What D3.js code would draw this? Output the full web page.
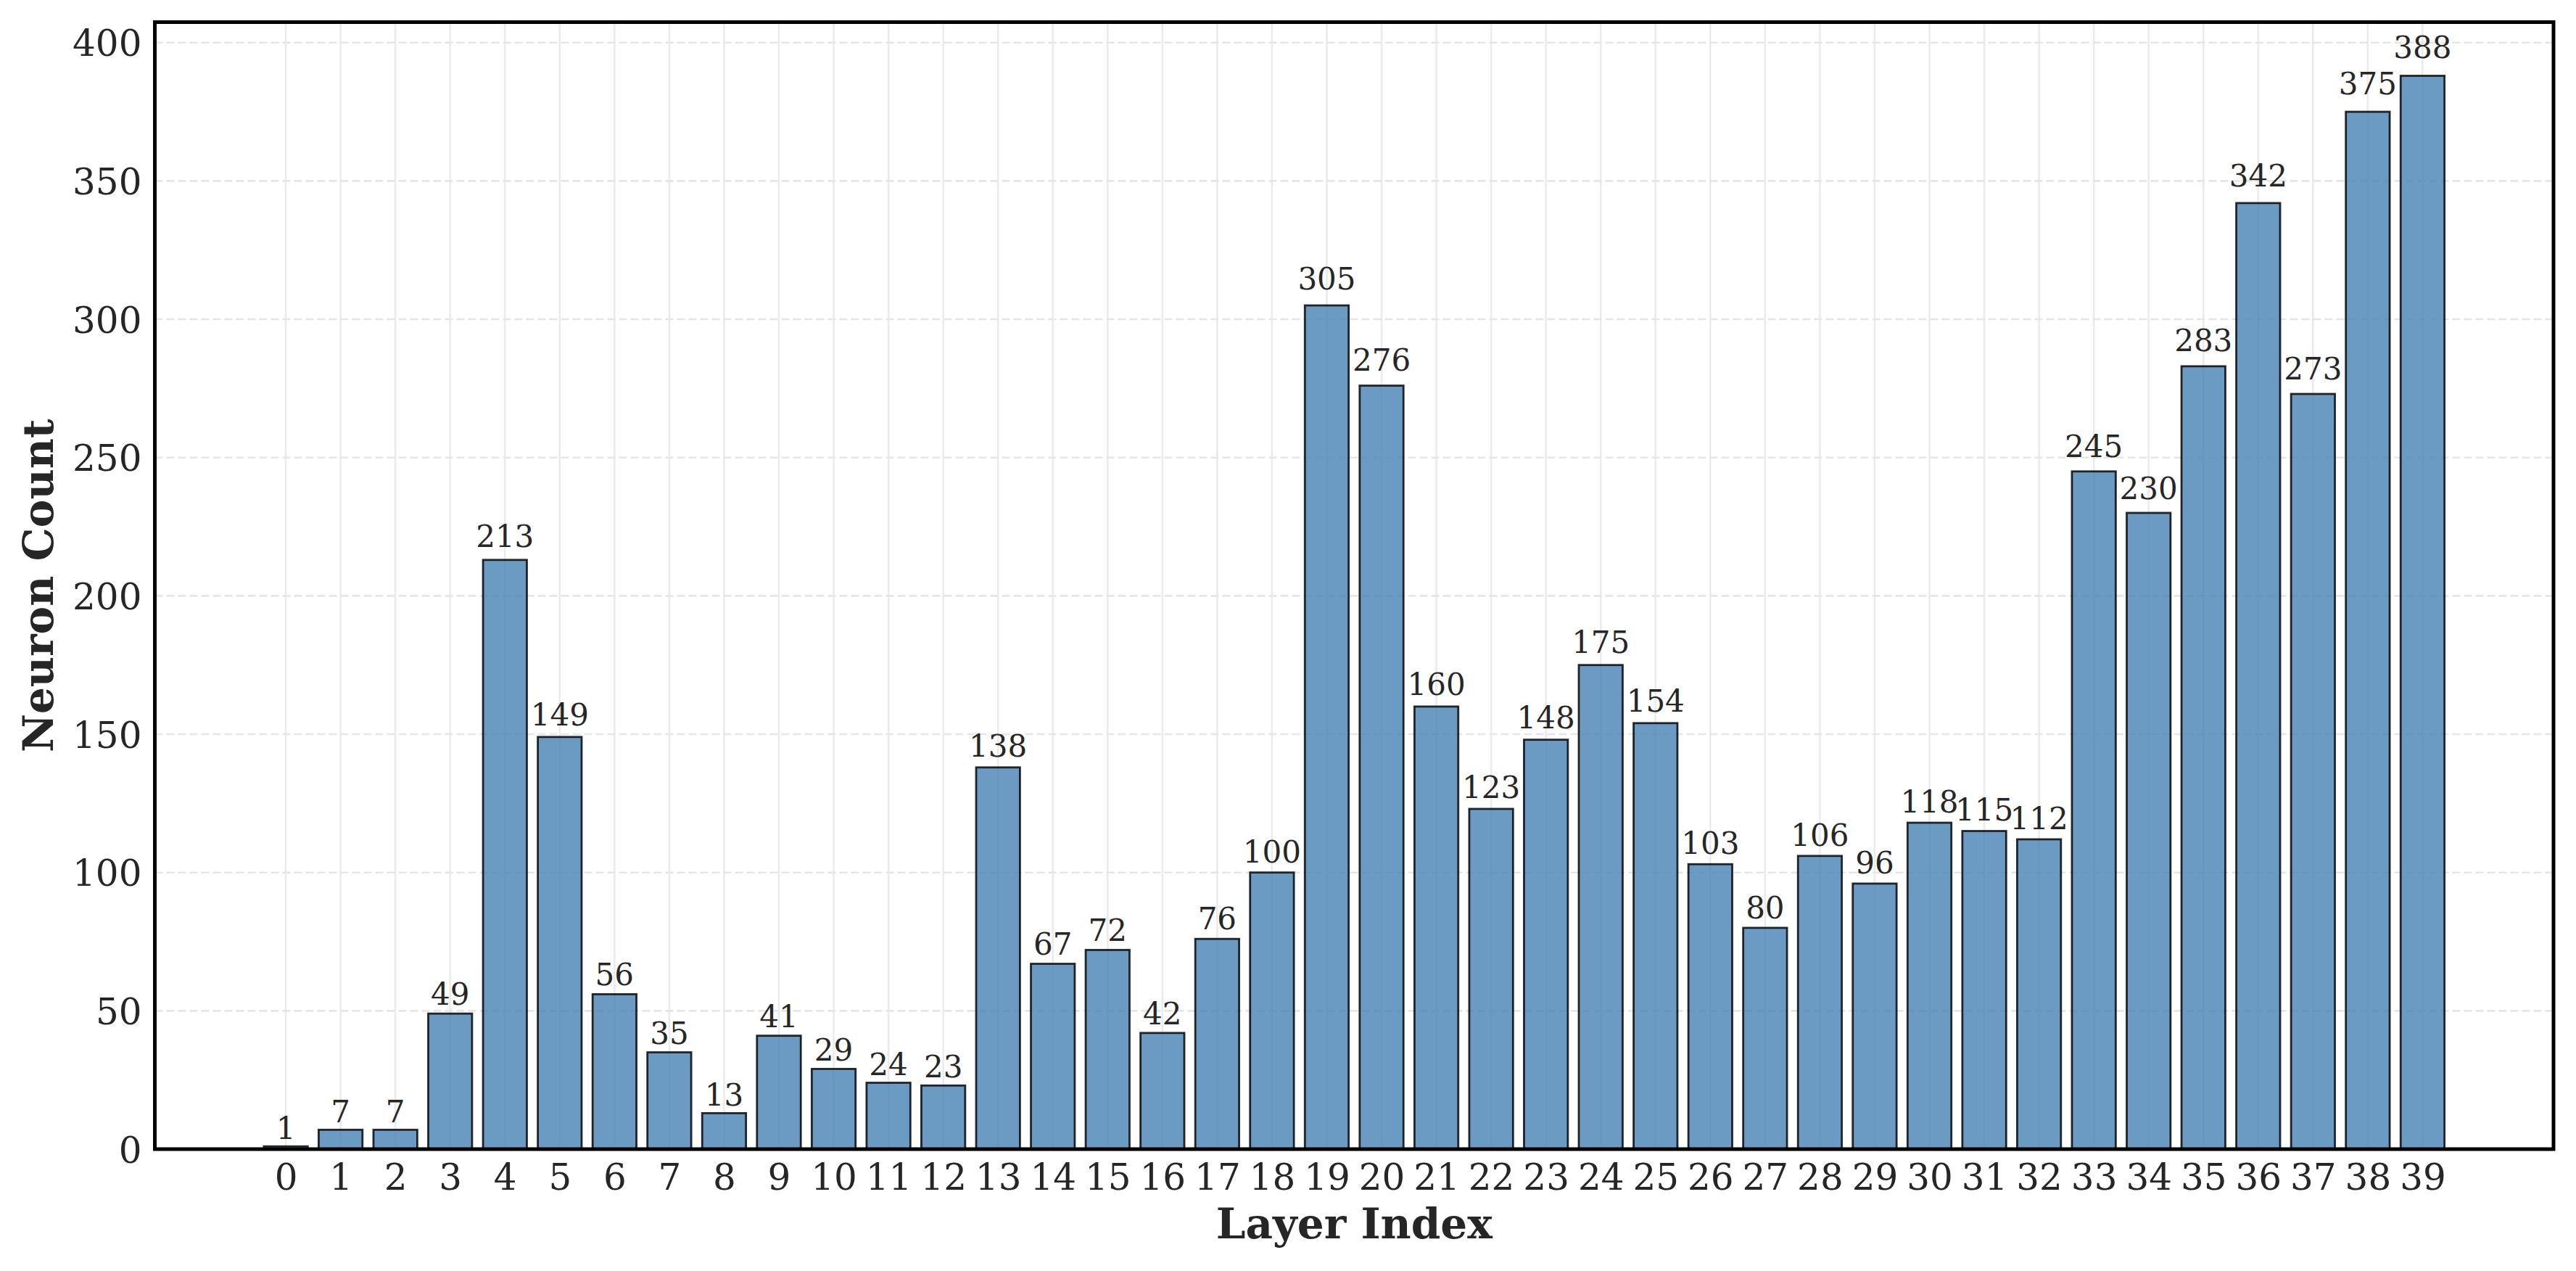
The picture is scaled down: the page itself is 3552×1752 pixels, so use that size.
<!DOCTYPE html>
<html lang="en">
<head>
<meta charset="UTF-8">
<title>Neuron Count per Layer</title>
<script src="https://cdnjs.cloudflare.com/ajax/libs/d3/7.8.5/d3.min.js"></script>
<style>
    html, body {
        margin: 0;
        padding: 0;
        background: #ffffff;
    }
    svg text {
        font-family: "DejaVu Serif", serif;
        fill: #262626;
    }
</style>
</head>
<body>
<div id="chart"></div>
<script>
    // layer index -> neuron count
    const layers = d3.range(0, 40);
    const counts = [1, 7, 7, 49, 213, 149, 56, 35, 13, 41,
                    29, 24, 23, 138, 67, 72, 42, 76, 100, 305,
                    276, 160, 123, 148, 175, 154, 103, 80, 106, 96,
                    118, 115, 112, 245, 230, 283, 342, 273, 375, 388];
    const yTicks = [0, 50, 100, 150, 200, 250, 300, 350, 400];

    const width = 3552;
    const height = 1752;
    const margin = {top: 30.5, right: 31, bottom: 168, left: 213.5};

    const svg = d3.select("#chart")
        .append("svg")
        .attr("width", width)
        .attr("height", height);

    const barW = 0.8;
    const lo = -barW / 2, hi = layers.length - 1 + barW / 2;
    const pad = (hi - lo) * 0.05;
    const x = d3.scaleLinear()
        .domain([lo - pad, hi + pad])
        .range([margin.left, width - margin.right]);

    const yMax = d3.max(counts) * 1.05;
    const y = d3.scaleLinear()
        .domain([0, yMax])
        .range([height - margin.bottom, margin.top]);

    // grid
    svg.append("g")
        .selectAll("line")
        .data(layers)
        .join("line")
        .attr("x1", d => x(d)).attr("x2", d => x(d))
        .attr("y1", margin.top).attr("y2", height - margin.bottom)
        .attr("stroke", "#ebebeb")
        .attr("stroke-width", 2.6);

    svg.append("g")
        .selectAll("line")
        .data(yTicks)
        .join("line")
        .attr("x1", margin.left).attr("x2", width - margin.right)
        .attr("y1", d => y(d)).attr("y2", d => y(d))
        .attr("stroke", "#e6e6e6")
        .attr("stroke-width", 2.6)
        .attr("stroke-dasharray", "11,5");

    // bars
    svg.append("g")
        .selectAll("rect")
        .data(counts)
        .join("rect")
        .attr("x", (d, i) => x(i - barW / 2))
        .attr("width", (d, i) => x(i + barW / 2) - x(i - barW / 2))
        .attr("y", d => y(d))
        .attr("height", d => y(0) - y(d))
        .attr("fill", "steelblue")
        .attr("fill-opacity", 0.8)
        .attr("stroke", "#000")
        .attr("stroke-opacity", 0.82)
        .attr("stroke-width", 2.8);

    // value labels, sitting just above each bar
    svg.append("g")
        .selectAll("text")
        .data(counts)
        .join("text")
        .attr("x", (d, i) => x(i))
        .attr("y", d => y(d * 1.01) - 10)
        .attr("text-anchor", "middle")
        .style("font-size", "42px")
        .text(d => d);

    // axes
    const xAxis = svg.append("g")
        .attr("transform", `translate(0,${height - margin.bottom})`)
        .call(d3.axisBottom(x).tickValues(layers).tickSize(0).tickPadding(0).tickFormat(d3.format("d")));
    xAxis.select(".domain").remove();
    xAxis.selectAll("text")
        .attr("dy", null)
        .attr("y", 56)
        .style("font-size", "50px")
        .attr("fill", "#262626");

    const yAxis = svg.append("g")
        .attr("transform", `translate(${margin.left},0)`)
        .call(d3.axisLeft(y).tickValues(yTicks).tickSize(0).tickPadding(18));
    yAxis.select(".domain").remove();
    yAxis.selectAll("text")
        .attr("dy", "0.36em")
        .style("font-size", "50px")
        .attr("fill", "#262626");

    // frame
    svg.append("rect")
        .attr("x", margin.left)
        .attr("y", margin.top)
        .attr("width", width - margin.right - margin.left)
        .attr("height", height - margin.bottom - margin.top)
        .attr("fill", "none")
        .attr("stroke", "#000")
        .attr("stroke-width", 5);

    // axis titles
    svg.append("text")
        .attr("x", (margin.left + width - margin.right) / 2)
        .attr("y", 1707)
        .attr("text-anchor", "middle")
        .style("font-size", "58px")
        .style("font-weight", "bold")
        .text("Layer Index");

    svg.append("text")
        .attr("transform", `translate(73,${(margin.top + height - margin.bottom) / 2}) rotate(-90)`)
        .attr("text-anchor", "middle")
        .style("font-size", "58px")
        .style("font-weight", "bold")
        .text("Neuron Count");
</script>
</body>
</html>
